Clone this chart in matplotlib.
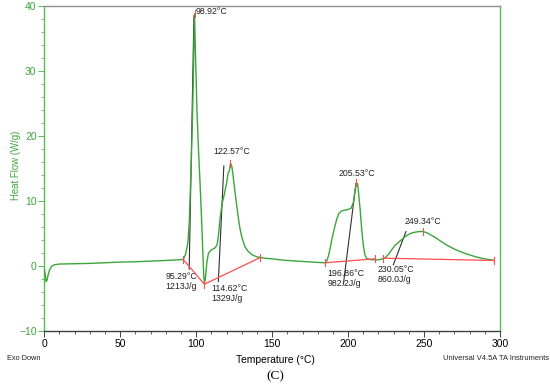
import matplotlib
matplotlib.use("Agg")
import matplotlib.pyplot as plt
from matplotlib.ticker import MultipleLocator

_GREEN = '#3aa63a'
_SPINE_GREEN = '#55c055'
_RED = '#ff4d4d'
_DARK = '#303030'
_FONT = 'Liberation Sans'

# DSC trace
temp = [0, 0.5, 1.2, 1.8, 2.5, 3.5, 5, 7, 10, 20, 30, 40, 50, 60, 70, 80, 88,
        91.5, 93, 94.5, 95.5, 96.5, 97.5, 98.3, 98.9, 99.5, 100.5, 101.5,
        102.5, 103.5, 104.3, 105, 105.4, 106, 107, 108, 109.5, 111, 112.5,
        113.8, 114.8, 115.8, 117, 118.5, 120, 121, 121.8, 122.6, 123.5,
        124.5, 125.5, 126.6, 127.7, 128.8, 130, 132, 134, 137, 140, 145, 150,
        155, 160, 170, 180, 184.8, 186, 187, 188, 189.5, 191, 192.5, 194, 196,
        198, 200, 202, 203.5, 204.5, 205.5, 206.3, 207, 208, 209, 210, 211,
        212, 214, 217, 220, 223, 225, 227, 229, 231, 233, 235, 238, 241, 244,
        247, 249.5, 252, 255, 258, 261, 265, 270, 275, 280, 285, 290, 296]
heat_flow = [-0.4, -1.2, -2.4, -2.2, -1.4, -0.6, 0.0, 0.2, 0.3, 0.35, 0.4,
             0.5, 0.6, 0.65, 0.75, 0.85, 0.95,
             1.0, 1.8, 3.5, 7.0, 14.0, 22.0, 31.0, 38.8, 33.0, 24.0, 18.0,
             13.0, 7.5, 2.5, -1.5, -2.6, -2.0, 0.5, 1.9, 2.4, 2.6, 2.8,
             3.3, 5.0, 7.5, 9.5, 11.0, 12.7, 14.3, 14.6, 15.8, 15.3,
             13.5, 11.5, 9.5, 7.5, 5.8, 4.5, 3.0, 2.3, 1.7, 1.4, 1.2, 1.1,
             0.95, 0.85, 0.7, 0.55, 0.5, 0.8, 1.5, 2.5, 4.3, 5.8, 7.2, 8.1, 8.5,
             8.6, 8.7, 8.9, 9.8, 11.5, 12.8, 12.6, 11.0, 8.5, 5.5, 3.2, 1.8,
             1.2, 1.0, 0.95, 0.95, 1.1, 1.4, 1.9, 2.6, 3.2, 3.6, 4.0, 4.6, 5.0, 5.2,
             5.3, 5.3, 5.1, 4.7, 4.3, 3.8, 3.2, 2.6, 2.1, 1.7, 1.35, 1.1, 0.85]

# integration baselines (red)
base1_t = [91.5, 105.4, 142.2]
base1_v = [1.0, -2.8, 1.3]
base2_t = [184.8, 217.7]
base2_v = [0.5, 1.1]
base3_t = [223.2, 296.0]
base3_v = [1.2, 0.85]

# peak maxima
peak_t = [98.92, 122.57, 205.53, 249.34]
peak_v = [38.8, 15.8, 12.8, 5.3]

# onset tangents (dark)
tangents = [((95.4, -0.5), (98.5, 38.5)),
            ((114.6, -2.4), (118.2, 15.4)),
            ((196.9, -2.8), (205.2, 12.7)),
            ((229.8, 0.2), (238.1, 5.3))]

peak_labels = ['98.92°C', '122.57°C', '205.53°C', '249.34°C']
onset_labels = ['95.29°C\n1213J/g', '114.62°C\n1329J/g',
                '196.86°C\n982.2J/g', '230.05°C\n860.0J/g']


def make_dsc_plot():
    fig = plt.figure(figsize=(5.5, 3.85), dpi=100)
    ax = fig.add_axes([0.0805, 0.1403, 0.8286, 0.8441])

    ax.plot(temp, heat_flow, color=_GREEN, lw=1.0, zorder=3)

    for (t0, v0), (t1, v1) in tangents:
        ax.plot([t0, t1], [v0, v1], color=_DARK, lw=0.8, zorder=2)

    for bt, bv in [(base1_t, base1_v), (base2_t, base2_v), (base3_t, base3_v)]:
        ax.plot(bt, bv, color=_RED, lw=0.9, zorder=4)
        for t, v in zip(bt, bv):
            ax.plot([t, t], [v - 0.55, v + 0.55], color=_RED, lw=0.8, zorder=4)
    for t, v in zip(peak_t, peak_v):
        ax.plot([t, t], [v - 0.55, v + 0.55], color=_RED, lw=0.8, zorder=4)

    txt = dict(fontsize=6.3, family=_FONT, color='#222222', linespacing=1.15)
    ax.text(99.9, 39.1, peak_labels[0], ha='left', va='center', **txt)
    ax.text(123.4, 17.6, peak_labels[1], ha='center', va='center', **txt)
    ax.text(205.7, 14.3, peak_labels[2], ha='center', va='center', **txt)
    ax.text(249.5, 6.8, peak_labels[3], ha='center', va='center', **txt)
    ax.text(79.9, -2.4, onset_labels[0], ha='left', va='center', **txt)
    ax.text(109.7, -4.3, onset_labels[1], ha='left', va='center', **txt)
    ax.text(186.6, -1.9, onset_labels[2], ha='left', va='center', **txt)
    ax.text(219.5, -1.3, onset_labels[3], ha='left', va='center', **txt)

    ax.set_xlim(0, 300)
    ax.set_ylim(-10, 40)
    ax.xaxis.set_major_locator(MultipleLocator(50))
    ax.xaxis.set_minor_locator(MultipleLocator(10))
    ax.yaxis.set_major_locator(MultipleLocator(10))
    ax.yaxis.set_minor_locator(MultipleLocator(2))

    ax.spines['left'].set_color(_SPINE_GREEN)
    ax.spines['right'].set_color(_SPINE_GREEN)
    ax.spines['top'].set_color('#909090')
    ax.spines['bottom'].set_color('#404040')
    for s in ax.spines.values():
        s.set_linewidth(1.0)

    ax.tick_params(axis='x', which='major', length=4, width=0.7,
                   colors='#404040', labelcolor='black', labelsize=7.5, pad=1.5)
    ax.tick_params(axis='x', which='minor', length=2, width=0.6, colors='#404040')
    ax.tick_params(axis='y', which='major', length=4, width=0.7,
                   colors=_SPINE_GREEN, labelcolor=_GREEN, labelsize=7.5, pad=1.5)
    ax.tick_params(axis='y', which='minor', length=2, width=0.6, colors=_SPINE_GREEN)
    for lab in ax.get_xticklabels() + ax.get_yticklabels():
        lab.set_family(_FONT)

    W, H = 550.0, 385.0
    fig.text(16 / W, 1 - 165 / H, 'Heat Flow (W/g)', rotation=90, color=_GREEN,
             fontsize=6.9, family=_FONT, ha='center', va='center')
    fig.text(275 / W, 1 - 360 / H, 'Temperature (°C)', fontsize=7.4,
             family=_FONT, ha='center', va='center')
    fig.text(7 / W, 1 - 359 / H, 'Exo Down', fontsize=5.3, family=_FONT,
             ha='left', va='center', color='#222222')
    fig.text(549 / W, 1 - 359 / H, 'Universal V4.5A TA Instruments', fontsize=5.4,
             family=_FONT, ha='right', va='center', color='#222222')
    fig.text(275 / W, 1 - 376 / H, '(C)', fontsize=9.5, family='Liberation Serif',
             ha='center', va='center')

    fig.savefig('out.png', dpi=100)


if __name__ == "__main__":
    make_dsc_plot()
